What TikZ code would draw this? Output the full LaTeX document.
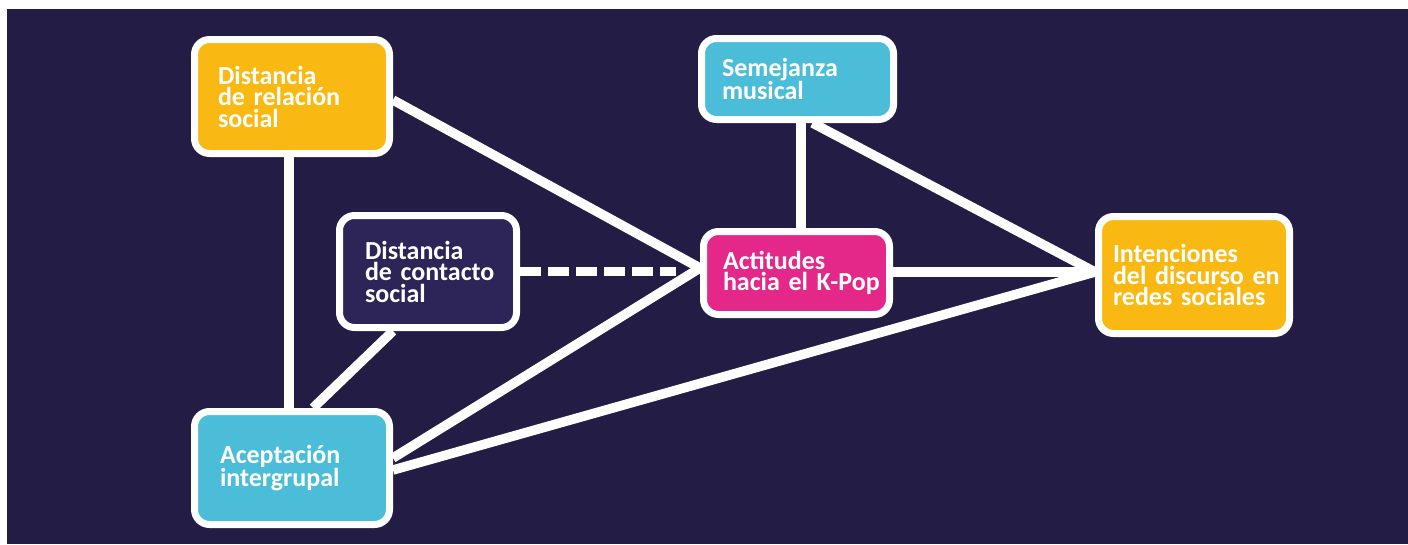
\documentclass[tikz,border=0pt]{standalone}
\usepackage{fontspec}
\setmainfont{Carlito}
\usetikzlibrary{calc}
\pgfdeclarelayer{bg}
\pgfdeclarelayer{edges}
\pgfsetlayers{bg,edges,main}

\definecolor{navy}{HTML}{231D45}
\definecolor{gold}{HTML}{F9B812}
\definecolor{sky}{HTML}{4BBDD8}
\definecolor{magenta}{HTML}{E4288A}
\definecolor{plum}{HTML}{2D2457}

\tikzset{
  box/.style={draw=white, line width=7pt, rounded corners=15pt, text=white,
    font=\bfseries\fontsize{26}{21.5}\selectfont, align=left, inner sep=0pt,
    execute at begin node={\hyphenpenalty=10000\exhyphenpenalty=10000\hbadness=10000\hfuzz=60pt}},
  link/.style={draw=white, line width=9.5pt},
  dashlink/.style={link, dash pattern=on 21pt off 7pt}
}

\begin{document}
\begin{tikzpicture}[x=1pt, y=-1pt]
\useasboundingbox (0,0) rectangle (1408,544);

\begin{pgfonlayer}{bg}
  \fill[white] (0,0) rectangle (1408,544);
  \fill[navy] (7,9) rectangle (1408,544);
\end{pgfonlayer}

% concept boxes
\node[box, fill=gold, minimum width=195pt, minimum height=114pt, text width=148pt]
  (drs) at (292,96.5) {\mbox{Distancia}\\\mbox{de relación}\\\mbox{social}};
\node[box, fill=sky, minimum width=195pt, minimum height=113pt, text width=144pt]
  (acep) at (292,468) {\mbox{Aceptación}\\\mbox{intergrupal}};
\node[box, fill=plum, minimum width=177pt, minimum height=112pt, text width=126pt]
  (dcs) at (428,271.5) {\mbox{Distancia}\\\mbox{de contacto}\\\mbox{social}};
\node[box, fill=sky, minimum width=192pt, minimum height=81pt, text width=151pt]
  (sem) at (797.5,79) {\mbox{Semejanza}\\\mbox{musical}};
\node[box, fill=magenta, minimum width=186pt, minimum height=83pt, text width=147pt]
  (act) at (796.5,273) {\mbox{Actitudes}\\\mbox{hacia el K-Pop}};
\node[box, fill=gold, minimum width=191pt, minimum height=117pt, text width=162pt]
  (int) at (1194,275) {\mbox{Intenciones}\\\mbox{del discurso en}\\\mbox{redes sociales}};

% connections, drawn beneath the boxes
\begin{pgfonlayer}{edges}
  \draw[link] ([xshift=-3pt]drs.south) -- ([xshift=-3pt]acep.north);
  \draw[link] ([yshift=-3.5pt]drs.east) -- ([yshift=5pt]act.west);
  \draw[link] ([xshift=-35pt]dcs.south) -- ([xshift=21pt]acep.north);
  \draw[dashlink] (dcs.east) -- ([xshift=-24pt]dcs.east -| act.west);
  \draw[link] ([yshift=10pt]acep.east) -- ([yshift=5pt]act.west);
  \draw[link] ([yshift=-2pt]acep.east) -- ([yshift=3pt]int.west);
  \draw[link] ([xshift=3.5pt]sem.south) -- ([xshift=3.5pt]sem.south |- act.north);
  \draw[link] ([xshift=15pt]sem.south) -- ([yshift=3pt]int.west);
  \draw[link] ([yshift=1pt]act.east) -- ([yshift=3pt]int.west);
\end{pgfonlayer}
\end{tikzpicture}
\end{document}
